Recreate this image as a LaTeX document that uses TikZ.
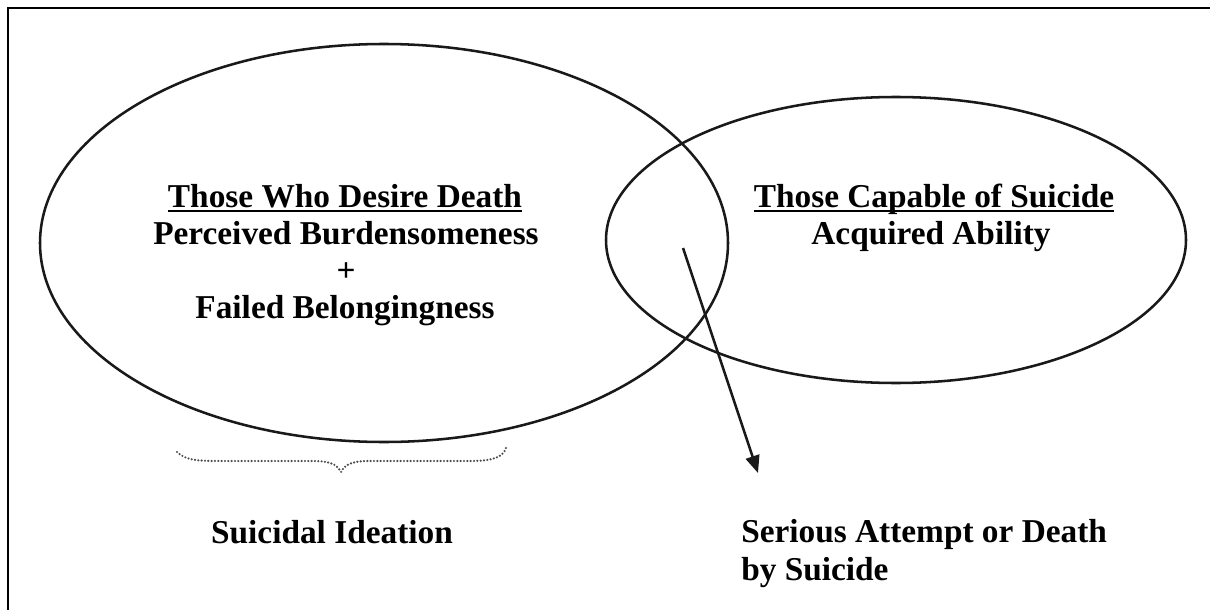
\documentclass[tikz,border=0pt]{standalone}
\usepackage{fontspec}
\setmainfont{Liberation Serif}
\usetikzlibrary{shapes.geometric,arrows.meta}

% heavy underline that sits just below the baseline
\newcommand\headline[1]{\setbox0\hbox{#1}\rlap{\rule[-4pt]{\wd0}{2pt}}\box0}

\tikzset{
  ring/.style={draw, ellipse, line width=1.9pt, black!90, inner sep=0pt},
  label/.style={font=\fontsize{25}{28}\selectfont\bfseries, inner sep=0pt, anchor=base},
  leftlabel/.style={label, anchor=base west},
  pointer/.style={line width=1.9pt, black!90, -{Triangle[length=13pt,width=10.5pt]}},
  dotbrace/.style={black!70, line width=1.8pt, line cap=round, dash pattern=on 0pt off 2.5pt},
}

\begin{document}
\begin{tikzpicture}[x=0.75pt, y=-0.75pt]
  \useasboundingbox (0,0) rectangle (1210,610);

  % frame (top and left edges)
  \draw[line width=1.8pt] (8,610) -- (8,8) -- (1210,8);

  % the two sets
  \node[ring, minimum width=516pt, minimum height=298.5pt] (desire) at (384,243) {};
  \node[ring, minimum width=435pt, minimum height=214.5pt] (capable) at (896,240) {};

  % labels of the left set
  \node[label] (desireT) at (345,207) {\headline{Those Who Desire Death}};
  \node[label] (burden)  at (346,244) {Perceived Burdensomeness};
  \node[label] (plus)    at (346,281) {+};
  \node[label] (belong)  at (345,318) {Failed Belongingness};

  % labels of the right set
  \node[label] (capableT) at (934,207) {\headline{Those Capable of Suicide}};
  \node[label] (ability)  at (931,244) {Acquired Ability};

  % outcomes
  \node[label] (ideation) at (332,543) {Suicidal Ideation};
  \node[leftlabel] (attempt) at (741,542) {Serious Attempt or Death};
  \node[leftlabel] (bysuicide) at (741,580) {by Suicide};

  % arrow from the overlap down to the outcome
  \coordinate (overlap) at (683,248);
  \coordinate (outcome) at (758,473);
  \draw[pointer] (overlap) -- (outcome);

  % dotted brace under the left set
  \coordinate (braceL) at (177,452);
  \coordinate (braceM) at (341,472);
  \coordinate (braceR) at (506,448);
  \draw[dotbrace] (braceL) .. controls (186,461) and (200,461) .. (225,461)
    -- (312,461) .. controls (332,461) and (337,465) .. (braceM)
    .. controls (345,465) and (350,461) .. (370,461)
    -- (470,461) .. controls (496,461) and (503,456) .. (braceR);
\end{tikzpicture}
\end{document}
